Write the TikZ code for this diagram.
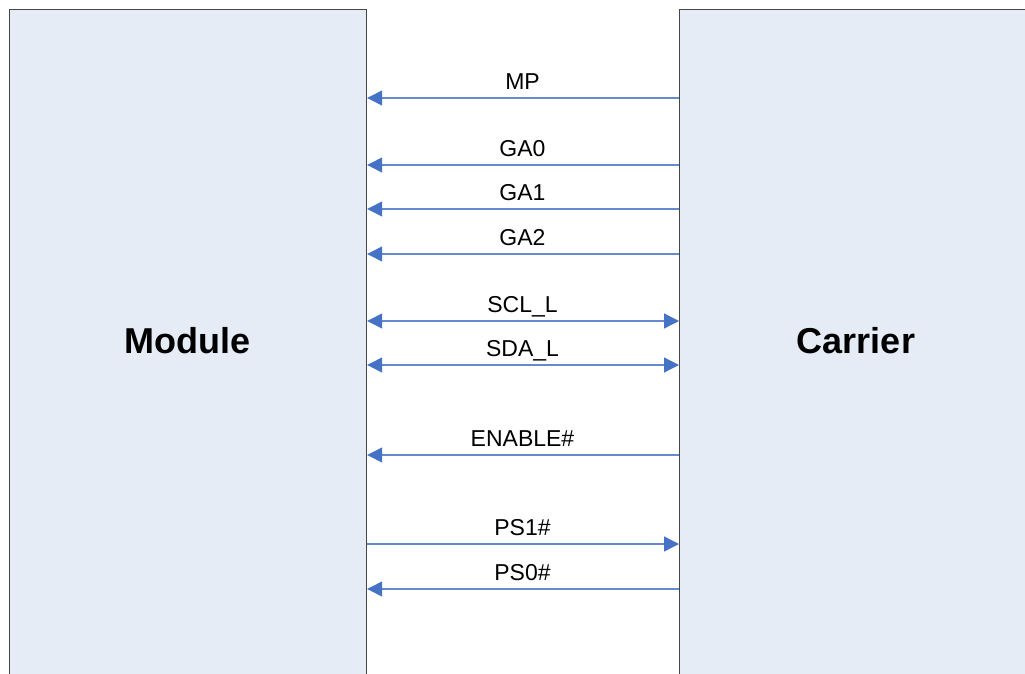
\documentclass[tikz,border=0pt]{standalone}
\usepackage{fontspec}
\setmainfont{Liberation Sans}
\usetikzlibrary{arrows.meta}
\definecolor{boxfill}{RGB}{230,236,246}
\definecolor{boxline}{RGB}{70,70,70}
\definecolor{sigline}{RGB}{100,140,205}
\definecolor{sighead}{RGB}{68,114,196}
\tikzset{
  box/.style={draw=boxline, line width=1.2pt, fill=boxfill, anchor=north west, inner sep=0pt},
  sig/.style={draw=sigline, line width=1.3pt, -{Triangle[length=15pt,width=15pt,fill=sighead,color=sighead]}},
  bsig/.style={draw=sigline, line width=1.3pt, {Triangle[length=15pt,width=15pt,fill=sighead,color=sighead]}-{Triangle[length=15pt,width=15pt,fill=sighead,color=sighead]}},
  lbl/.style={font=\fontsize{23}{26}\selectfont, anchor=base, inner sep=0pt},
  big/.style={font=\fontsize{36}{40}\selectfont\bfseries, inner sep=0pt}
}
\begin{document}
\begin{tikzpicture}[x=1pt,y=-1pt]
\useasboundingbox (0,0) rectangle (1025,674);
\clip (0,0) rectangle (1025,674);
\fill[white] (0,0) rectangle (1025,674);
\node[box, minimum width=357pt, minimum height=700pt] (mod) at (9,9) {};
\node[box, minimum width=380pt, minimum height=700pt] (car) at (679,9) {};
\node[big] (modt) at (187.5,341) {Module};
\node[big] (cart) at (856,341) {Carrier};
% signals
\draw[sig] (car.west |- 0,98) -- (mod.east |- 0,98);
\node[lbl] (l1) at (522.5,89.5) {MP};
\draw[sig] (car.west |- 0,165) -- (mod.east |- 0,165);
\node[lbl] (l2) at (522.5,156.5) {GA0};
\draw[sig] (car.west |- 0,209) -- (mod.east |- 0,209);
\node[lbl] (l3) at (522.5,200.5) {GA1};
\draw[sig] (car.west |- 0,254) -- (mod.east |- 0,254);
\node[lbl] (l4) at (522.5,245.5) {GA2};
\draw[bsig] (car.west |- 0,321) -- (mod.east |- 0,321);
\node[lbl] (l5) at (522.5,312.5) {SCL\_L};
\draw[bsig] (car.west |- 0,365) -- (mod.east |- 0,365);
\node[lbl] (l6) at (522.5,356.5) {SDA\_L};
\draw[sig] (car.west |- 0,455) -- (mod.east |- 0,455);
\node[lbl] (l7) at (522.5,446.5) {ENABLE\#};
\draw[sig] (mod.east |- 0,544) -- (car.west |- 0,544);
\node[lbl] (l8) at (522.5,535.5) {PS1\#};
\draw[sig] (car.west |- 0,589) -- (mod.east |- 0,589);
\node[lbl] (l9) at (522.5,580.5) {PS0\#};
\end{tikzpicture}
\end{document}
